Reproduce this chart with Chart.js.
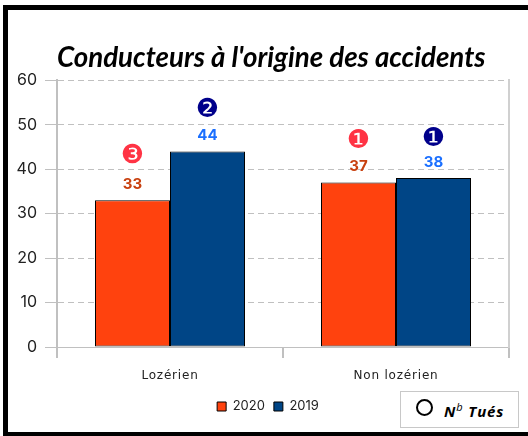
<!DOCTYPE html>
<html><head><meta charset="utf-8">
<style>
html,body{margin:0;padding:0;background:#fff;}
#wrap{position:relative;width:528px;height:436px;overflow:hidden;}
#frame{position:absolute;left:3px;top:5px;width:600px;height:422px;border:5px solid #000;box-sizing:content-box;}
canvas{position:absolute;left:0;top:0;}
#note{position:absolute;left:400px;top:391px;width:117px;height:35px;border:1px solid #c8c8c8;background:#fff;font:italic bold 15px "Open Sans",sans-serif;letter-spacing:.9px;color:#000;}
#note i.c{position:absolute;left:15px;top:7px;width:13px;height:13px;border:2px solid #000;border-radius:50%;}
#note span{position:absolute;left:43px;top:9px;white-space:nowrap;}
#note sup{font-size:11px;line-height:0;font-weight:400;}
</style></head><body>
<div id="wrap">
<canvas id="c" width="528" height="436"></canvas>
<div id="frame"></div>
<div id="note"><i class="c"></i><span>N<sup>b</sup> Tués</span></div>
</div>
<script src="https://cdn.jsdelivr.net/npm/chart.js@4/dist/chart.umd.min.js"></script>
<script>
const categories = ["Lozérien", "Non lozérien"];
const values2020 = [33, 37];
const values2019 = [44, 38];
const ranks2020 = ["❸", "❶"];
const ranks2019 = ["❷", "❶"];
const rankHeights2020 = [42.9, 46.2];
const rankHeights2019 = [53.2, 46.7];
const yTicks = [0, 10, 20, 30, 40, 50, 60];
const titleText = "Conducteurs à l'origine des accidents";

const annotate = {
  id: "annotate",
  afterDatasetsDraw(chart) {
    const ctx = chart.ctx;
    const y = chart.scales.y;
    const specs = [
      {i: 0, ranks: ranks2020, heights: rankHeights2020, col: "#c8400f", rc: "#ff3344"},
      {i: 1, ranks: ranks2019, heights: rankHeights2019, col: "#1a6fff", rc: "#00008b"}
    ];
    ctx.save();
    ctx.textAlign = "center";
    ctx.textBaseline = "middle";
    specs.forEach(s => {
      chart.getDatasetMeta(s.i).data.forEach((bar, k) => {
        ctx.font = 'bold 15px "Inter",sans-serif';
        ctx.fillStyle = s.col;
        ctx.fillText(String(chart.data.datasets[s.i].data[k]), bar.x, bar.y - 16);
        ctx.font = '26px "DejaVu Sans",sans-serif';
        ctx.fillStyle = s.rc;
        ctx.fillText(s.ranks[k], bar.x, y.getPixelForValue(s.heights[k]));
      });
    });
    ctx.restore();
  }
};

function spacedLabels(ax) {
  if (ax._spaced) return;
  ax._spaced = true;
  const draw = ax.drawLabels;
  ax.drawLabels = function (area) {
    ax.ctx.letterSpacing = "0.8px";
    draw.call(ax, area);
    ax.ctx.letterSpacing = "0px";
  };
}

new Chart(document.getElementById("c"), {
  type: "bar",
  data: {
    labels: categories,
    datasets: [
      {label: "2020", data: values2020, backgroundColor: "#ff420e", borderColor: "#000", borderWidth: 1, borderSkipped: false, inflateAmount: 0},
      {label: "2019", data: values2019, backgroundColor: "#004586", borderColor: "#000", borderWidth: 1, borderSkipped: false, inflateAmount: 0}
    ]
  },
  plugins: [annotate],
  options: {
    responsive: false,
    animation: false,
    layout: {padding: {left: 8, right: 0, top: 0, bottom: 13}},
    datasets: {bar: {categoryPercentage: 0.66372, barPercentage: 1}},
    scales: {
      x: {
        afterFit(ax) { ax.height = 44; },
        afterUpdate: spacedLabels,
        grid: {display: true, drawOnChartArea: false, color: "#c0c0c0", lineWidth: 2, tickLength: 11, offset: true},
        border: {color: "#c0c0c0", width: 1},
        ticks: {color: "#222", font: {family: "DejaVu Sans", size: 12}, padding: 11, maxRotation: 0}
      },
      y: {
        min: 0, max: 60,
        afterFit(ax) { ax.width = 49; },
        afterBuildTicks(ax) { ax.ticks = yTicks.map(v => ({value: v})); },
        grid: {color: "#c0c0c0", lineWidth: 1, tickLength: 12},
        border: {color: "#c0c0c0", width: 2, dash: [6, 4]},
        ticks: {color: "#222", font: {family: "Inter", size: 16}, padding: 8}
      },
      yRight: {
        position: "right",
        min: 0, max: 60,
        afterFit(ax) { ax.width = 19; },
        grid: {drawOnChartArea: false, drawTicks: false},
        border: {color: "#d0d0d0", width: 2},
        ticks: {display: false}
      }
    },
    plugins: {
      title: {
        display: true, text: titleText, color: "#000", align: "start", fullSize: false,
        font: {family: "Lato", size: 27.7, weight: "bold", style: "italic"},
        padding: {top: 41, bottom: 6}
      },
      legend: {
        position: "bottom",
        labels: {boxWidth: 9, boxHeight: 9, padding: 9, color: "#222", font: {family: "Inter", size: 13}}
      },
      tooltip: {enabled: false}
    }
  }
});
</script>
</body></html>
